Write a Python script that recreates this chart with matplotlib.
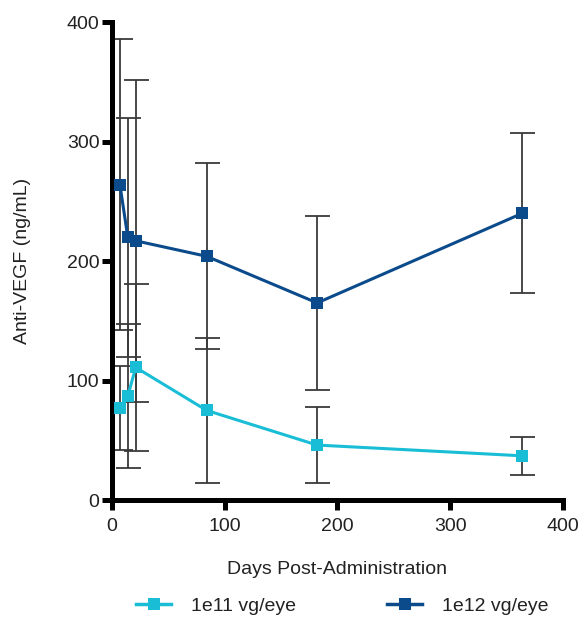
import matplotlib
matplotlib.use("Agg")
import matplotlib.pyplot as plt
from matplotlib.lines import Line2D

plt.rcParams['font.family'] = ['Liberation Sans', 'DejaVu Sans']

days = [7, 14, 21, 84, 182, 364]
low_dose_mean = [77, 87, 111, 75, 46, 37]
low_dose_err = [35, 60, 70, 61, 32, 16]
high_dose_mean = [264, 220, 217, 204, 165, 240]
high_dose_err = [122, 100, 135, 78, 73, 67]
labels = ['1e11 vg/eye', '1e12 vg/eye']
colors = ['#19BED6', '#0B4B8C']

fig = plt.figure(figsize=(5.81, 6.23), dpi=100)
ax = fig.add_axes([0.1928, 0.1974, 0.776, 0.767])

for mean, err, c in [(low_dose_mean, low_dose_err, colors[0]),
                     (high_dose_mean, high_dose_err, colors[1])]:
    ax.errorbar(days, mean, yerr=err, fmt='none', ecolor='#3a3a3a',
                elinewidth=1.3, capsize=9, capthick=1.3, zorder=2)
    ax.plot(days, mean, color=c, lw=2.2, marker='s', markersize=9,
            markeredgewidth=0, zorder=3)

ax.set_xlim(0, 400)
ax.set_ylim(0, 400)
ax.set_xticks([0, 100, 200, 300, 400])
ax.set_yticks([0, 100, 200, 300, 400])
for s in ['top', 'right']:
    ax.spines[s].set_visible(False)
for s in ['left', 'bottom']:
    ax.spines[s].set_linewidth(3.6)
    ax.spines[s].set_capstyle('projecting')
ax.tick_params(axis='both', direction='out', length=7, width=3.6,
               labelsize=14, colors='black', labelcolor='#222222')
ax.tick_params(axis='x', pad=6)
ax.tick_params(axis='y', pad=2)
ax.set_xlabel('Days Post-Administration', fontsize=14, color='#222222', labelpad=19)
ax.set_ylabel('Anti-VEGF (ng/mL)', fontsize=14, color='#222222', labelpad=26)

handles = [Line2D([0], [0], color=c, lw=2.5, marker='s', markersize=9,
                  markeredgewidth=0) for c in colors]
fig.legend(handles, labels, loc='center', bbox_to_anchor=(0.589, 0.027),
           ncol=2, frameon=False, fontsize=14, columnspacing=4.7,
           handlelength=1.8, handletextpad=1.0, labelcolor='#222222')

fig.savefig('out.png', dpi=100)
